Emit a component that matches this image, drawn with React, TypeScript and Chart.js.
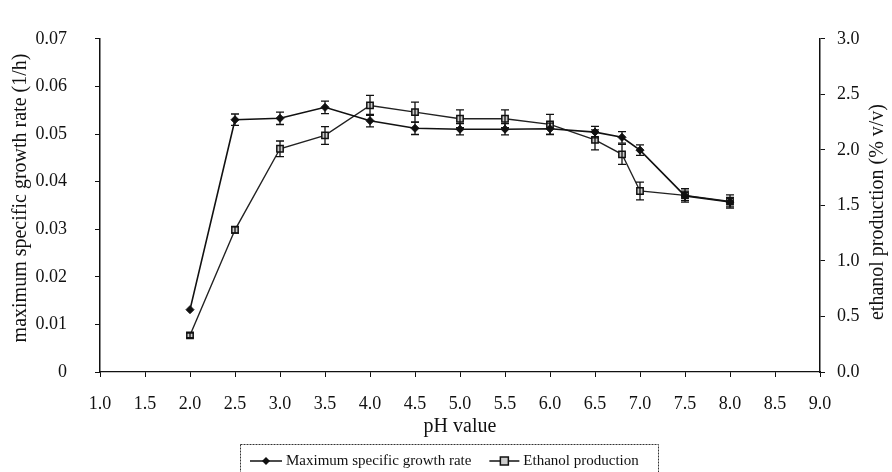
import React, { useEffect, useRef } from "react";
import { Chart, registerables } from "chart.js";
Chart.register(...registerables);

const phValues = [2.0, 2.5, 3.0, 3.5, 4.0, 4.5, 5.0, 5.5, 6.0, 6.5, 6.8, 7.0, 7.5, 8.0];
const growthRate = [0.0131, 0.053, 0.0533, 0.0556, 0.0528, 0.0512, 0.051, 0.051, 0.0511, 0.0504, 0.0493, 0.0466, 0.037, 0.0357];
const growthErr = [0, 0.0012, 0.0013, 0.0013, 0.0013, 0.0013, 0.0012, 0.0012, 0.0012, 0.0012, 0.0012, 0.0011, 0.001, 0.001];
const ethanol = [0.33, 1.28, 2.01, 2.13, 2.4, 2.34, 2.28, 2.28, 2.23, 2.09, 1.96, 1.63, 1.59, 1.535];
const ethanolErr = [0.02, 0.03, 0.07, 0.08, 0.09, 0.09, 0.08, 0.08, 0.09, 0.09, 0.09, 0.08, 0.06, 0.06];
const xTicksMin = 1.0;
const xTicksMax = 9.0;
const seriesNames = ["Maximum specific growth rate", "Ethanol production"];
const xTitle = "pH value";
const yLeftTitle = "maximum specific growth rate (1/h)";
const yRightTitle = "ethanol production (% v/v)";

const FONT = "'Liberation Serif', 'DejaVu Serif', serif";

const overlayPlugin = {
  id: "overlay",
  afterDatasetsDraw(chart: any) {
    const ctx = chart.ctx;
    const xs = chart.scales.x;
    const yl = chart.scales.y;
    const yr = chart.scales.y1;
    ctx.save();
    ctx.strokeStyle = "#111";
    ctx.lineWidth = 1.3;
    const drawErr = (vals: number[], errs: number[], sc: any) => {
      vals.forEach((v, i) => {
        const e = errs[i];
        if (!e) return;
        const px = xs.getPixelForValue(phValues[i]);
        const t = sc.getPixelForValue(v + e);
        const b = sc.getPixelForValue(v - e);
        ctx.beginPath();
        ctx.moveTo(px, t);
        ctx.lineTo(px, b);
        ctx.moveTo(px - 4, t);
        ctx.lineTo(px + 4, t);
        ctx.moveTo(px - 4, b);
        ctx.lineTo(px + 4, b);
        ctx.stroke();
      });
    };
    drawErr(growthRate, growthErr, yl);
    drawErr(ethanol, ethanolErr, yr);
    ctx.restore();
  },
  afterDraw(chart: any) {
    const ctx = chart.ctx;
    const ca = chart.chartArea;
    ctx.save();
    ctx.fillStyle = "#111";
    ctx.textAlign = "center";
    ctx.textBaseline = "middle";
    ctx.font = `20px ${FONT}`;
    ctx.fillText(xTitle, (ca.left + ca.right) / 2, 427);
    ctx.save();
    ctx.translate(21, 198);
    ctx.rotate(-Math.PI / 2);
    ctx.fillText(yLeftTitle, 0, 0);
    ctx.restore();
    ctx.save();
    ctx.translate(878, 212);
    ctx.rotate(-Math.PI / 2);
    ctx.fillText(yRightTitle, 0, 0);
    ctx.restore();

    // legend
    const bx = 240, by = 444, bw = 418, bh = 30;
    ctx.strokeStyle = "#333";
    ctx.lineWidth = 1;
    ctx.setLineDash([2, 1]);
    ctx.strokeRect(bx + 0.5, by + 0.5, bw, bh);
    ctx.setLineDash([]);
    ctx.font = `15px ${FONT}`;
    ctx.textAlign = "left";
    ctx.strokeStyle = "#111";
    const ly = 461;
    // item 1
    ctx.lineWidth = 1.5;
    ctx.beginPath();
    ctx.moveTo(250, ly);
    ctx.lineTo(282, ly);
    ctx.stroke();
    ctx.beginPath();
    ctx.moveTo(266, ly - 4);
    ctx.lineTo(270, ly);
    ctx.lineTo(266, ly + 4);
    ctx.lineTo(262, ly);
    ctx.closePath();
    ctx.fill();
    const t1 = seriesNames[0];
    ctx.fillText(t1, 286, ly);
    const x2 = 286 + ctx.measureText(t1).width + 18;
    // item 2
    ctx.beginPath();
    ctx.moveTo(x2, ly);
    ctx.lineTo(x2 + 30, ly);
    ctx.stroke();
    ctx.fillStyle = "#ccc";
    ctx.fillRect(x2 + 11, ly - 4, 8, 8);
    ctx.strokeRect(x2 + 11, ly - 4, 8, 8);
    ctx.fillStyle = "#111";
    ctx.fillText(seriesNames[1], x2 + 34, ly);
    ctx.restore();
  },
};

export default function App() {
  const ref = useRef<HTMLCanvasElement>(null);
  useEffect(() => {
    if (!ref.current) return;
    const tickFont = { family: FONT, size: 18 };
    const chart = new Chart(ref.current, {
      type: "line",
      data: {
        datasets: [
          {
            label: seriesNames[0],
            data: phValues.map((x, i) => ({ x, y: growthRate[i] })),
            yAxisID: "y",
            borderColor: "#111",
            backgroundColor: "#111",
            borderWidth: 1.6,
            pointStyle: "rectRot",
            pointRadius: 4,
            pointBorderWidth: 1,
            pointBackgroundColor: "#111",
            pointBorderColor: "#111",
          },
          {
            label: seriesNames[1],
            data: phValues.map((x, i) => ({ x, y: ethanol[i] })),
            yAxisID: "y1",
            borderColor: "#222",
            backgroundColor: "#ccc",
            borderWidth: 1.4,
            pointStyle: "rect",
            pointRadius: 4.5,
            pointBorderWidth: 1.5,
            pointBackgroundColor: "#ccc",
            pointBorderColor: "#111",
          },
        ],
      },
      options: {
        responsive: false,
        animation: false,
        layout: { padding: { top: 15, left: 0, right: 0, bottom: 0 } },
        plugins: { legend: { display: false }, tooltip: { enabled: false } },
        scales: {
          x: {
            type: "linear",
            min: xTicksMin,
            max: xTicksMax,
            ticks: {
              stepSize: 0.5,
              color: "#111",
              font: tickFont,
              padding: 16,
              maxRotation: 0,
              autoSkip: false,
              callback: (v: any) => Number(v).toFixed(1),
            },
            grid: { drawOnChartArea: false, color: "#111", tickLength: 5 },
            border: { color: "#111", width: 1.2 },
            afterFit: (s: any) => { s.height = 100; },
          },
          y: {
            type: "linear",
            position: "left",
            min: 0,
            max: 0.07,
            ticks: {
              stepSize: 0.01,
              color: "#111",
              font: tickFont,
              padding: 28,
              callback: (v: any) => (Number(v) === 0 ? "0" : Number(v).toFixed(2)),
            },
            grid: { drawOnChartArea: false, color: "#111", tickLength: 5 },
            border: { color: "#111", width: 1.5 },
            afterFit: (s: any) => { s.width = 100; },
          },
          y1: {
            type: "linear",
            position: "right",
            min: 0,
            max: 3,
            ticks: {
              stepSize: 0.5,
              color: "#111",
              font: tickFont,
              padding: 12,
              callback: (v: any) => Number(v).toFixed(1),
            },
            grid: { drawOnChartArea: false, color: "#111", tickLength: 5 },
            border: { color: "#111", width: 1.5 },
            afterFit: (s: any) => { s.width = 72; },
          },
        },
      },
      plugins: [overlayPlugin],
    });
    return () => chart.destroy();
  }, []);
  return (
    <div style={{ position: "fixed", left: 0, top: 0, width: 892, height: 472, background: "#fff" }}>
      <canvas ref={ref} width={892} height={472} style={{ width: 892, height: 472 }} />
    </div>
  );
}
